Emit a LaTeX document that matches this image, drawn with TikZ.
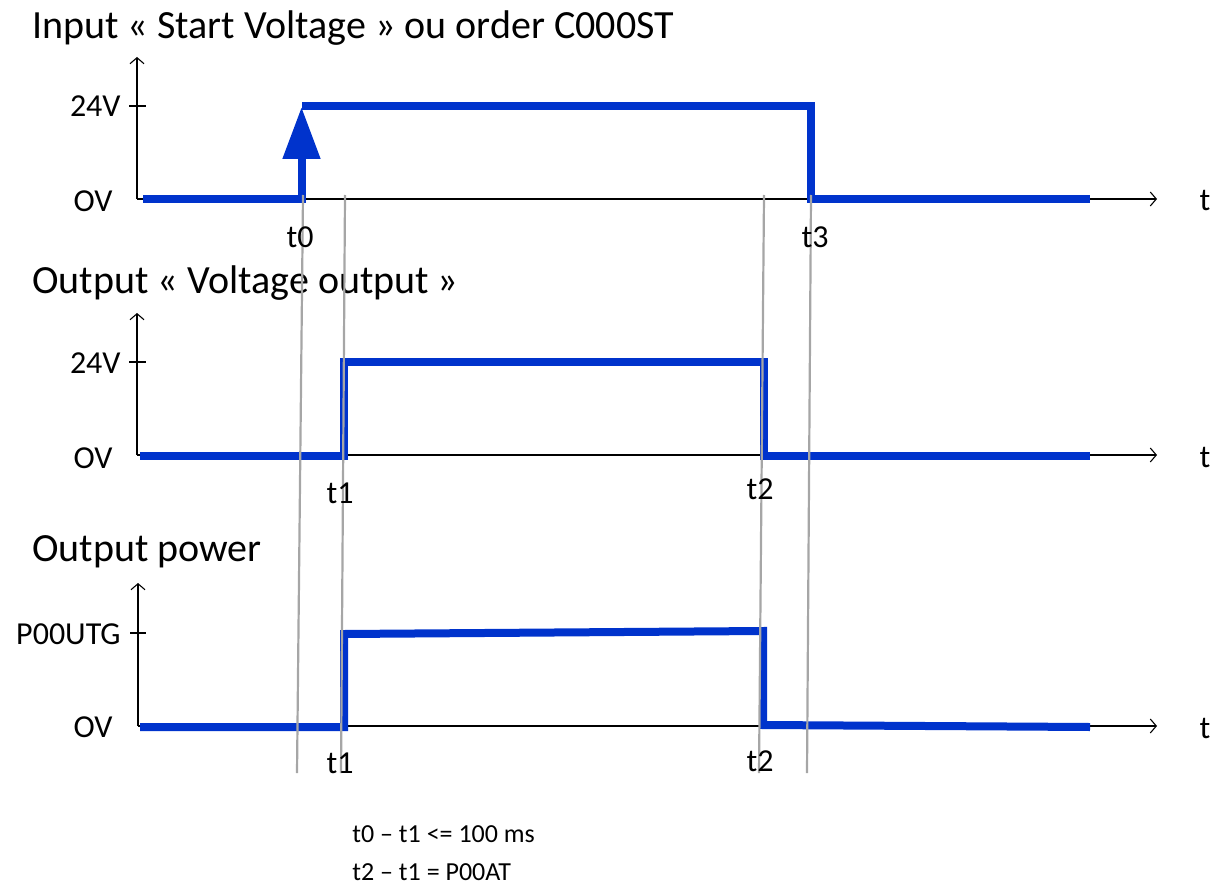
\documentclass[tikz,border=0pt]{standalone}
\usepackage{fontspec}
\setmainfont{Carlito}
\usepackage{xcolor}
\usepackage{tikz}
\usetikzlibrary{arrows.meta, positioning}
\definecolor{sigblue}{RGB}{0,51,204}

\begin{document}
\begin{tikzpicture}[
    x=1pt, y=-1pt,
    thick,
    title/.style={anchor=west, inner sep=0pt, font=\fontsize{40}{44}\selectfont},
    lbl/.style={inner sep=0pt, font=\fontsize{32}{36}\selectfont},
    note/.style={anchor=west, inner sep=0pt, font=\fontsize{26}{30}\selectfont},
    axis/.style={line width=1.1pt, -{Straight Barb[length=6pt, width=14pt]}},
    tickmark/.style={line width=1.6pt},
    signal/.style={draw=sigblue, line width=8pt},
    marker/.style={draw=black!35, line width=2.2pt}
]
\useasboundingbox (0,0) rectangle (1222,885);

% Axes
\coordinate (oA) at (137,199);
\coordinate (oB) at (137,455);
\coordinate (oC) at (138,726);
\draw[axis] (oA) -- (1157,199);
\draw[axis] (oA) -- (137,57);
\draw[axis] (oB) -- (1157,455);
\draw[axis] (oB) -- (137,313);
\draw[axis] (oC) -- (1157,726);
\draw[axis] (oC) -- (138,583);
\draw[tickmark] (129,106) -- (146,106);
\draw[tickmark] (129,362) -- (146,362);
\draw[tickmark] (130,633) -- (146,633);

% Titles
\node (inTitle) [title] at (32,28) {Input « Start Voltage » ou order C000ST};
\node (voltTitle) [title] at (32,283) {Output « Voltage output »};
\node (powTitle) [title] at (32,552) {Output power};

% Levels
\node (highA) [lbl, anchor=east] at (121,106) {24V};
\node (lowA) [lbl, anchor=east] at (113,201) {OV};
\node (highB) [lbl, anchor=east] at (121,363) {24V};
\node (lowB) [lbl, anchor=east] at (113,458) {OV};
\node (highC) [lbl, anchor=east] at (121,634) {P00UTG};
\node (lowC) [lbl, anchor=east] at (113,727) {OV};
\node (tA) [lbl] at (1205,201) {t};
\node (tB) [lbl] at (1205,457) {t};
\node (tC) [lbl] at (1205,728) {t};

% Signals
\draw[signal] (143,199) -- (301.5,199);
\draw[signal, -{Triangle[length=52pt, width=36pt]}] (301.5,203) -- (301.5,107);
\draw[signal] (302,106) -- (811,106) -- (811,199) -- (1090,199);
\draw[signal] (140,456) -- (343.5,456) -- (343.5,362) -- (764,362) -- (764,456) -- (1090,456);
\draw[signal] (140,727) -- (344,727) -- (344,634) -- (763,631) -- (763,725) -- (1090,727);

% Instants
\coordinate (t0top) at (303,195);  \coordinate (t0bot) at (297,773);
\coordinate (t1top) at (345,195);  \coordinate (t1bot) at (341,773);
\coordinate (t2top) at (764,195);  \coordinate (t2bot) at (759,773);
\coordinate (t3top) at (811,195);  \coordinate (t3bot) at (807,773);
\draw[marker] (t0top) -- (t0bot);
\draw[marker] (t1top) -- (t1bot);
\draw[marker] (t2top) -- (t2bot);
\draw[marker] (t3top) -- (t3bot);

\node (lt0) [lbl] at (300,237) {t0};
\node (lt3) [lbl] at (815,237) {t3};
\node (lt1a) [lbl] at (340,493) {t1};
\node (lt2a) [lbl] at (760,489) {t2};
\node (lt1b) [lbl] at (340,763) {t1};
\node (lt2b) [lbl] at (760,761) {t2};

% Notes
\node (delay) [note] at (352,834) {t0 – t1 <= 100 ms};
\node (hold) [note] at (352,872) {t2 – t1 = P00AT};

\end{tikzpicture}
\end{document}
